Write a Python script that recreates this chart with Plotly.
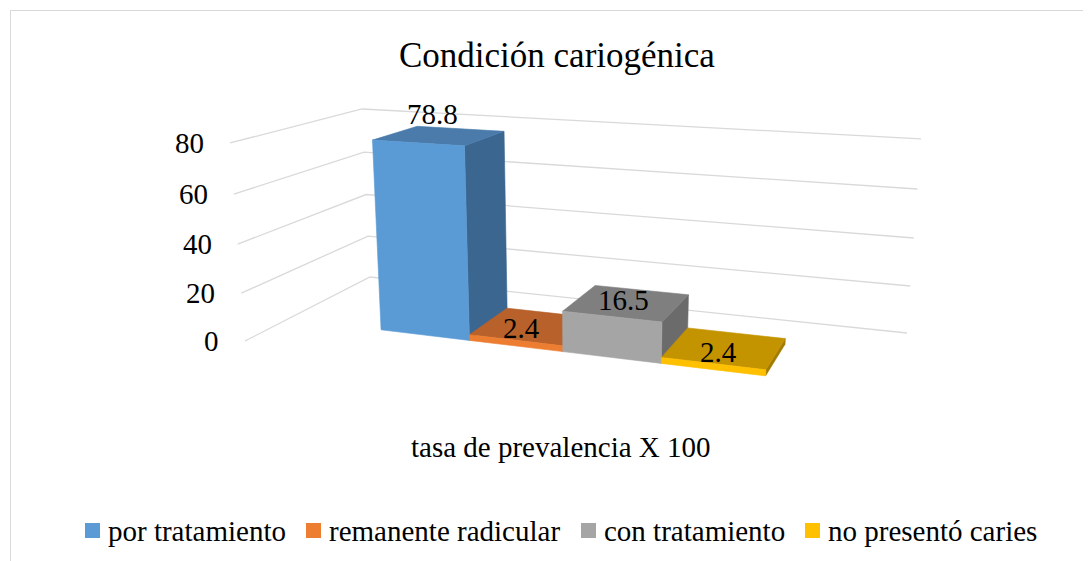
import plotly.graph_objects as go

# ---------------- data ----------------
categories = ["por tratamiento", "remanente radicular", "con tratamiento", "no presentó caries"]
values = [78.8, 2.4, 16.5, 2.4]
y_ticks = [0, 20, 40, 60, 80]
y_tick_labels = ["0", "20", "40", "60", "80"]
axis_title = "tasa de prevalencia X 100"
chart_title = "Condición cariogénica"

# ---------------- style ----------------
FONT = "Liberation Serif, Times New Roman, serif"
front_colors = ["#5B9BD5", "#ED7D31", "#A5A5A5", "#FFC000"]
top_colors = ["#4A7BAB", "#B8612A", "#7F7F7F", "#C49300"]
side_colors = ["#3B6690", "#9C5020", "#6B6B6B", "#A37A00"]
grid_color = "#D9D9D9"
label_shift = [(-7, -22), (-12, 2), (-3, -3), (-6, 4)]   # data label nudges (px)
legend_x = [85, 306, 581, 805]                          # legend item left edges (px)
W, H = 1091, 561
PAGE_MARGIN = 8   # default body margin of the html page

# --------- 3D view (perspective camera of the 3-D column chart) ---------
VMAX = 80.0
ORIGIN = (245.0, 341.0)
VP_U, L_U = (-2940.0, -68.0), -0.1657    # category direction
VP_V, L_V = (584.0, 4810.0), -0.04243    # value direction
VP_W, L_W = (1038.0, -65.0), 0.1871      # depth direction
CLUSTER_CENTER, BAR_W = 0.5, 0.161
DEPTH_FRONT, DEPTH_BACK = 0.31, 0.69


def proj(u, val, w):
    v = val / VMAX
    nx = L_U * u * VP_U[0] + L_V * v * VP_V[0] + L_W * w * VP_W[0] + ORIGIN[0]
    ny = L_U * u * VP_U[1] + L_V * v * VP_V[1] + L_W * w * VP_W[1] + ORIGIN[1]
    d = 1 + L_U * u + L_V * v + L_W * w
    return nx / d, ny / d


def poly(points):
    xs, ys = [], []
    for p in points:
        x, y = proj(*p)
        xs.append(x)
        ys.append(y)
    xs.append(xs[0])
    ys.append(ys[0])
    return xs, ys


fig = go.Figure()

# gridlines (left wall + back wall)
gx, gy = [], []
for t in y_ticks:
    for p in [(0, t, 0), (0, t, 1), (1, t, 1)]:
        x, y = proj(*p)
        gx.append(x)
        gy.append(y)
    gx.append(None)
    gy.append(None)
fig.add_trace(go.Scatter(x=gx, y=gy, mode="lines", line=dict(color=grid_color, width=1.3),
                         hoverinfo="skip", showlegend=False))

# bars
n = len(values)
u_start = CLUSTER_CENTER - n * BAR_W / 2
for i, (cat, val) in enumerate(zip(categories, values)):
    u0 = u_start + i * BAR_W
    u1 = u0 + BAR_W
    wa, wb = DEPTH_FRONT, DEPTH_BACK
    faces = [
        ([(u1, 0, wa), (u1, 0, wb), (u1, val, wb), (u1, val, wa)], side_colors[i]),
        ([(u0, val, wa), (u1, val, wa), (u1, val, wb), (u0, val, wb)], top_colors[i]),
        ([(u0, 0, wa), (u1, 0, wa), (u1, val, wa), (u0, val, wa)], front_colors[i]),
    ]
    for pts, col in faces:
        xs, ys = poly(pts)
        fig.add_trace(go.Scatter(x=xs, y=ys, mode="lines", fill="toself", fillcolor=col,
                                 line=dict(color=col, width=0.6), hoverinfo="skip",
                                 showlegend=False, name=cat))

annotations = []
# data labels
for i, val in enumerate(values):
    uc = u_start + (i + 0.5) * BAR_W
    x, y = proj(uc, val, 0.5)
    dx, dy = label_shift[i]
    annotations.append(dict(x=x + dx, y=y + dy, xref="x", yref="y", text=f"{val:.1f}",
                            showarrow=False, xanchor="center", yanchor="middle",
                            font=dict(family=FONT, size=29, color="#000000")))
# value axis tick labels
for t, lab in zip(y_ticks, y_tick_labels):
    x, y = proj(0, t, 0)
    annotations.append(dict(x=x - 24, y=y, xref="x", yref="y", text=lab, showarrow=False,
                            xanchor="right", yanchor="middle",
                            font=dict(family=FONT, size=29, color="#000000")))
# title & category axis title
annotations.append(dict(x=557, y=55, xref="x", yref="y", text=chart_title, showarrow=False,
                        xanchor="center", yanchor="middle",
                        font=dict(family=FONT, size=35, color="#000000")))
annotations.append(dict(x=561, y=447, xref="x", yref="y", text=axis_title, showarrow=False,
                        xanchor="center", yanchor="middle",
                        font=dict(family=FONT, size=29, color="#000000")))

shapes = [dict(type="rect", xref="x", yref="y", x0=10.5, y0=10.5, x1=W + 20, y1=H + 20,
               line=dict(color="#D9D9D9", width=1), fillcolor="rgba(0,0,0,0)", layer="below")]
# legend
for i, cat in enumerate(categories):
    lx = legend_x[i]
    shapes.append(dict(type="rect", xref="x", yref="y", x0=lx, x1=lx + 15, y0=523, y1=538,
                       line=dict(width=0), fillcolor=front_colors[i]))
    annotations.append(dict(x=lx + 21, y=531, xref="x", yref="y", text=cat, showarrow=False,
                            xanchor="left", yanchor="middle",
                            font=dict(family=FONT, size=29, color="#000000")))

fig.update_layout(
    width=W - PAGE_MARGIN, height=H - PAGE_MARGIN, margin=dict(l=0, r=0, t=0, b=0),
    paper_bgcolor="white", plot_bgcolor="white",
    xaxis=dict(range=[PAGE_MARGIN, W], visible=False, fixedrange=True),
    yaxis=dict(range=[H, PAGE_MARGIN], visible=False, fixedrange=True),
    showlegend=False, annotations=annotations, shapes=shapes, hovermode=False,
)

fig.write_html("out.html", config={"displayModeBar": False})
